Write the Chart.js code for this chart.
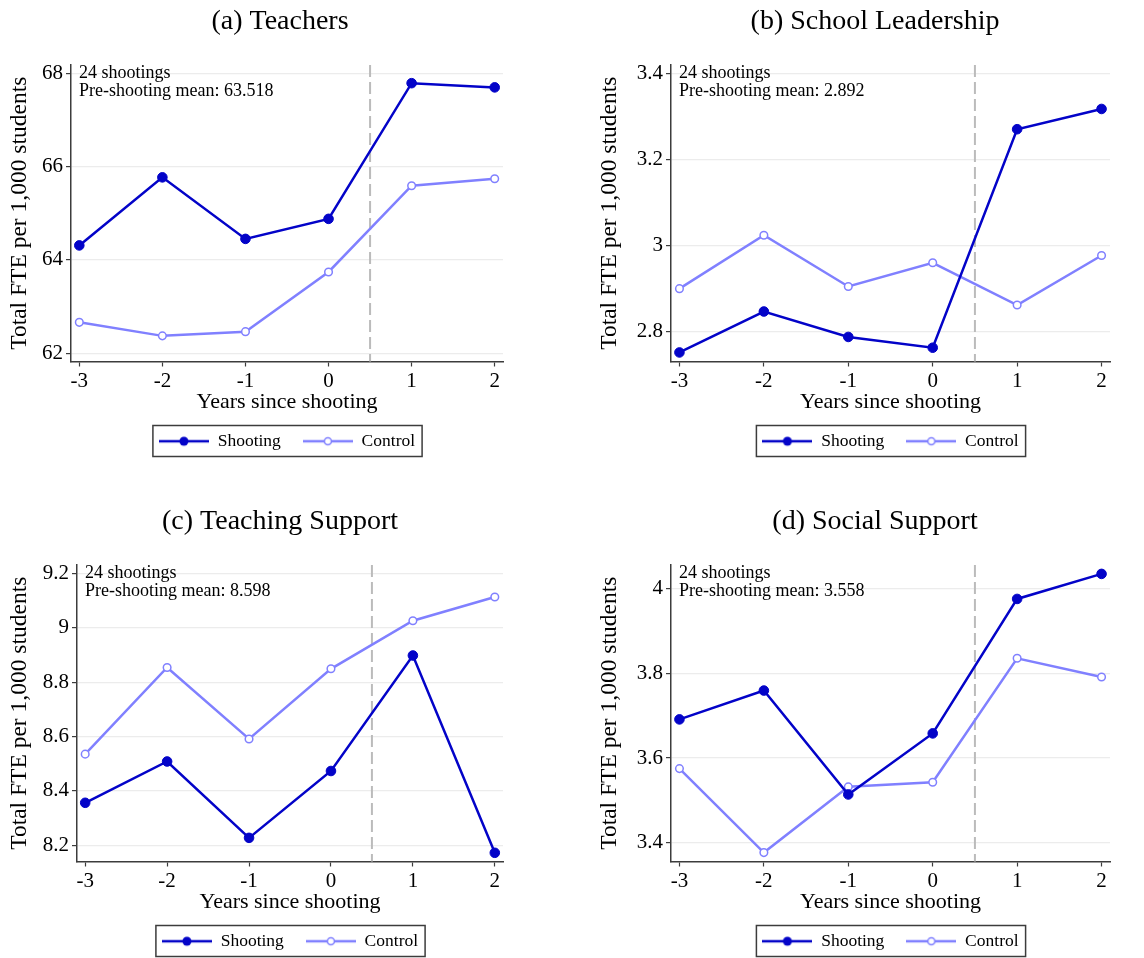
<!DOCTYPE html>
<html>
<head>
<meta charset="utf-8">
<script src="https://cdn.jsdelivr.net/npm/chart.js@4"></script>
<style>
  html, body { margin: 0; padding: 0; background: #fff; overflow: hidden; }
  canvas { position: absolute; }
</style>
</head>
<body>
<canvas id="chartA"></canvas>
<canvas id="chartB"></canvas>
<canvas id="chartC"></canvas>
<canvas id="chartD"></canvas>
<script>
// data
const years = [-3, -2, -1, 0, 1, 2];
const panelTitles = ['(a) Teachers', '(b) School Leadership', '(c) Teaching Support', '(d) Social Support'];
const seriesNames = ['Shooting', 'Control'];

const shootingTeachers = [64.31, 65.77, 64.45, 64.88, 67.79, 67.70];
const controlTeachers = [62.66, 62.37, 62.46, 63.74, 65.59, 65.74];
const shootingLeadership = [2.752, 2.847, 2.788, 2.763, 3.270, 3.317];
const controlLeadership = [2.900, 3.024, 2.905, 2.960, 2.862, 2.977];
const shootingTeachSupport = [8.356, 8.508, 8.227, 8.473, 8.898, 8.172];
const controlTeachSupport = [8.535, 8.854, 8.591, 8.849, 9.026, 9.113];
const shootingSocial = [3.691, 3.759, 3.514, 3.658, 3.975, 4.034];
const controlSocial = [3.575, 3.377, 3.532, 3.543, 3.835, 3.791];

const nShootings = 24;
const preMeans = ['63.518', '2.892', '8.598', '3.558'];

const yMins = [61.82, 2.731, 8.14, 3.356];
const yMaxs = [68.18, 3.419, 9.231, 4.055];
const ySteps = [2, 0.2, 0.2, 0.2];

const shootingSeries = [shootingTeachers, shootingLeadership, shootingTeachSupport, shootingSocial];
const controlSeries = [controlTeachers, controlLeadership, controlTeachSupport, controlSocial];

// layout of the four panels
const panels = [
  { id: 'chartA', left: 0,   top: 0,   width: 574, axisW: 71, padRight: 71, titleX: 280 },
  { id: 'chartB', left: 590, top: 0,   width: 554, axisW: 81, padRight: 34, titleX: 285 },
  { id: 'chartC', left: 0,   top: 500, width: 574, axisW: 77, padRight: 71, titleX: 280 },
  { id: 'chartD', left: 590, top: 500, width: 554, axisW: 81, padRight: 34, titleX: 285 }
];
const panelHeight = 470;

const shootingColor = '#0303c8';
const controlColor = '#8080ff';
const axisColor = '#3c3c3c';
const serif = '"Liberation Serif", "Times New Roman", serif';

Chart.defaults.font.family = serif;
Chart.defaults.color = '#000';

function legendSwatch(color, filled) {
  const c = document.createElement('canvas');
  c.width = 50; c.height = 12;
  const g = c.getContext('2d');
  g.strokeStyle = color;
  g.lineWidth = 2.5;
  g.beginPath(); g.moveTo(0, 6); g.lineTo(50, 6); g.stroke();
  g.beginPath();
  g.arc(25, 6, filled ? 4.5 : 3.5, 0, Math.PI * 2);
  if (filled) {
    g.fillStyle = color; g.fill();
  } else {
    g.fillStyle = '#fff'; g.fill();
    g.lineWidth = 1.5; g.stroke();
  }
  return c;
}
const swatches = [legendSwatch(shootingColor, true), legendSwatch(controlColor, false)];

// stata-ish extras: reference line, note text, legend frame, centring
const stataLook = {
  id: 'stataLook',
  afterLayout(chart, args, opts) {
    const ca = chart.chartArea;
    const lg = chart.legend;
    if (lg) {
      lg.left = ca.left;
      lg.right = ca.right;
      lg.width = ca.right - ca.left;
      lg.top += opts.legendDy;
      lg.bottom += opts.legendDy;
    }
    const tb = chart.titleBlock;
    if (tb) {
      const half = (tb.right - tb.left) / 2;
      tb.left = opts.titleX - half;
      tb.right = opts.titleX + half;
    }
  },
  beforeDatasetsDraw(chart, args, opts) {
    const ctx = chart.ctx;
    const ca = chart.chartArea;
    const x = chart.scales.x.getPixelForValue(opts.eventX);
    ctx.save();
    ctx.strokeStyle = '#bbbbbb';
    ctx.lineWidth = 2;
    ctx.setLineDash([12, 5]);
    ctx.beginPath();
    ctx.moveTo(x, ca.top);
    ctx.lineTo(x, ca.bottom);
    ctx.stroke();
    ctx.restore();
  },
  afterDraw(chart, args, opts) {
    const ctx = chart.ctx;
    const ca = chart.chartArea;
    ctx.save();
    ctx.fillStyle = '#000';
    ctx.font = '18px ' + serif;
    ctx.textAlign = 'left';
    ctx.textBaseline = 'alphabetic';
    opts.note.forEach((line, i) => {
      ctx.fillText(line, ca.left + 8, ca.top + 12.5 + i * 18.6);
    });
    // frame round the legend
    const hb = chart.legend.legendHitBoxes;
    if (hb && hb.length) {
      const last = hb[hb.length - 1];
      const l = hb[0].left - 6;
      const r = last.left + last.width + 7;
      const t = hb[0].top - 7;
      const b = hb[0].top + hb[0].height + 6.5;
      ctx.strokeStyle = axisColor;
      ctx.lineWidth = 1.5;
      ctx.strokeRect(l, t, r - l, b - t);
    }
    ctx.restore();
  }
};

panels.forEach((p, k) => {
  const canvas = document.getElementById(p.id);
  canvas.width = p.width;
  canvas.height = panelHeight;
  canvas.style.left = p.left + 'px';
  canvas.style.top = p.top + 'px';
  canvas.style.width = p.width + 'px';
  canvas.style.height = panelHeight + 'px';

  new Chart(canvas.getContext('2d'), {
    type: 'line',
    data: {
      datasets: [
        {
          label: seriesNames[0],
          data: years.map((x, i) => ({ x: x, y: shootingSeries[k][i] })),
          borderColor: shootingColor,
          backgroundColor: shootingColor,
          borderWidth: 2.5,
          pointRadius: 4.8,
          pointBackgroundColor: shootingColor,
          pointBorderColor: shootingColor,
          pointBorderWidth: 1,
          tension: 0,
          clip: false
        },
        {
          label: seriesNames[1],
          data: years.map((x, i) => ({ x: x, y: controlSeries[k][i] })),
          borderColor: controlColor,
          backgroundColor: '#fff',
          borderWidth: 2.5,
          pointRadius: 3.8,
          pointBackgroundColor: '#fff',
          pointBorderColor: controlColor,
          pointBorderWidth: 1.5,
          tension: 0,
          clip: false
        }
      ]
    },
    options: {
      responsive: false,
      animation: false,
      events: [],
      layout: { padding: { left: 0, right: p.padRight, top: 0, bottom: 11 } },
      scales: {
        x: {
          type: 'linear',
          min: -3.1,
          max: 2.1,
          afterFit: s => { s.height = 48; },
          border: { display: true, color: axisColor, width: 1.5 },
          grid: { drawOnChartArea: false, drawTicks: true, tickLength: 5, tickColor: axisColor, tickWidth: 1.2 },
          ticks: { stepSize: 1, includeBounds: false, padding: 2, color: '#000', font: { size: 21 }, maxRotation: 0 },
          title: {
            display: true,
            text: 'Years since shooting',
            color: '#000',
            font: { size: 22, lineHeight: 1 },
            padding: { top: 0, bottom: -4 }
          }
        },
        y: {
          type: 'linear',
          min: yMins[k],
          max: yMaxs[k],
          afterFit: s => { s.width = p.axisW; },
          border: { display: true, color: axisColor, width: 1.5 },
          grid: { color: '#ececec', lineWidth: 1.2, drawTicks: true, tickLength: 5, tickColor: axisColor, tickWidth: 1.2 },
          ticks: {
            stepSize: ySteps[k],
            includeBounds: false,
            padding: 3,
            color: '#000',
            font: { size: 21 },
            callback: v => String(Math.round(v * 10) / 10)
          },
          title: {
            display: true,
            text: 'Total FTE per 1,000 students',
            color: '#000',
            font: { size: 23.5, lineHeight: 1 },
            padding: { top: 8, bottom: 0 }
          }
        }
      },
      plugins: {
        title: {
          display: true,
          text: panelTitles[k],
          color: '#000',
          font: { size: 28, weight: 'normal', lineHeight: 1.2 },
          padding: { top: 5, bottom: 26.4 }
        },
        legend: {
          display: true,
          position: 'bottom',
          labels: {
            usePointStyle: true,
            pointStyleWidth: 50,
            padding: 22,
            color: '#000',
            font: { size: 17.5 },
            generateLabels(chart) {
              const items = Chart.defaults.plugins.legend.labels.generateLabels(chart);
              items.forEach((it, i) => { it.pointStyle = swatches[i]; });
              return items;
            }
          }
        },
        tooltip: { enabled: false },
        stataLook: {
          titleX: p.titleX,
          legendDy: 1,
          eventX: 0.5,
          note: [nShootings + ' shootings', 'Pre-shooting mean: ' + preMeans[k]]
        }
      }
    },
    plugins: [stataLook]
  });
});
</script>
</body>
</html>
